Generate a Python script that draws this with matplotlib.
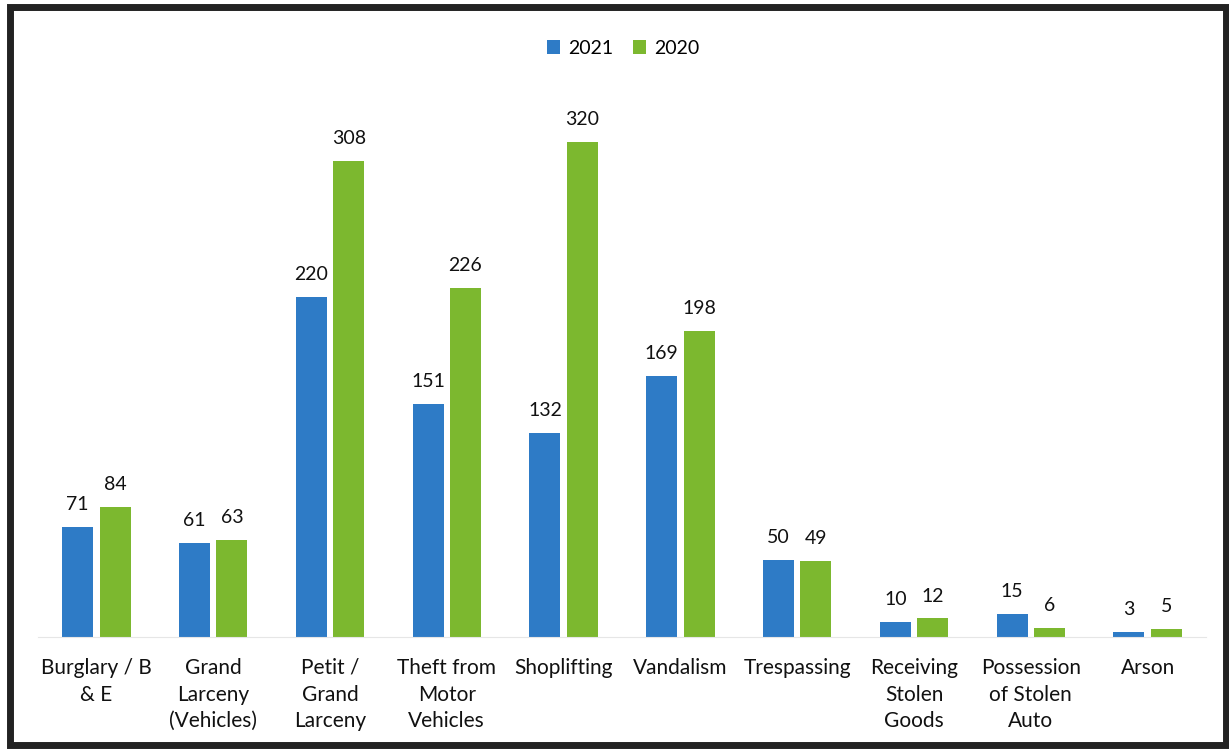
import matplotlib.pyplot as plt
import numpy as np
from matplotlib.patches import Rectangle

plt.rcParams['font.family'] = ['Lato', 'DejaVu Sans']

# данные
categories = ['Burglary / B\n& E', 'Grand\nLarceny\n(Vehicles)', 'Petit /\nGrand\nLarceny',
              'Theft from\nMotor\nVehicles', 'Shoplifting', 'Vandalism', 'Trespassing',
              'Receiving\nStolen\nGoods', 'Possession\nof Stolen\nAuto', 'Arson']
values_2021 = [71, 61, 220, 151, 132, 169, 50, 10, 15, 3]
values_2020 = [84, 63, 308, 226, 320, 198, 49, 12, 6, 5]

blue = '#2E7BC6'
green = '#7CB82F'

fig = plt.figure(figsize=(12.29, 7.49), dpi=100)
ax = fig.add_axes([38 / 1229, 1 - 637 / 749, 1168 / 1229, 541 / 749])

x = np.arange(len(categories))
w = 0.265
off = 0.16
b1 = ax.bar(x - off, values_2021, w, color=blue, label='2021')
b2 = ax.bar(x + off, values_2020, w, color=green, label='2020')

for bars in (b1, b2):
    for b in bars:
        ax.annotate(str(int(b.get_height())), (b.get_x() + b.get_width() / 2, b.get_height()),
                    xytext=(0, 10), textcoords='offset points', ha='center', va='bottom',
                    fontsize=14, color='#111111')

ax.set_xlim(-0.5, len(categories) - 0.5)
ax.set_ylim(0, 350)
ax.set_yticks([])
ax.set_xticks(x)
ax.set_xticklabels(categories, fontsize=15, color='#111111', linespacing=1.42, va='top')
ax.tick_params(axis='x', length=0, pad=15)
for s in ['top', 'right', 'left']:
    ax.spines[s].set_visible(False)
ax.spines['bottom'].set_color('#e6e6e6')

fig.legend(loc='upper center', bbox_to_anchor=(0.507, 0.97), ncol=2, frameon=False,
           fontsize=14, handlelength=0.7, handleheight=0.7, handletextpad=0.4, columnspacing=1.0)

# рамка
fig.patches.append(Rectangle((10 / 1229, 4 / 749), 1216 / 1229, 738 / 749, transform=fig.transFigure,
                             fill=False, edgecolor='#222222', linewidth=5))

plt.savefig('out.png', dpi=100)
